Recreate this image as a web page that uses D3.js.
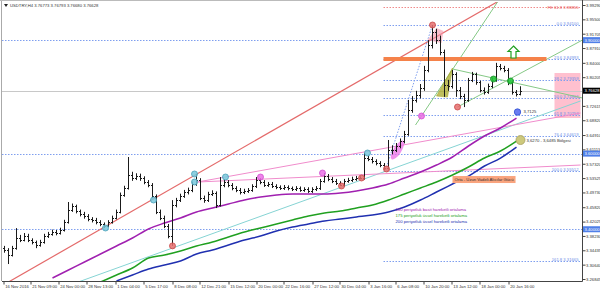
<!DOCTYPE html>
<html><head><meta charset="utf-8">
<script src="https://cdn.jsdelivr.net/npm/d3@7"></script>
<style>body{margin:0;background:#fff} svg{display:block;font-family:"Liberation Sans",Arial,sans-serif}</style>
</head><body><svg id="c" width="600" height="292"></svg>
<script>
// ---- OHLC (H4 bars, resampled) ----
const firstOpen = 3.350;
const closes = [3.345,3.332,3.350,3.377,3.372,3.382,3.372,3.366,3.358,3.366,
3.382,3.387,3.393,3.390,3.398,3.419,3.451,3.461,3.448,3.440,
3.435,3.427,3.424,3.419,3.414,3.409,3.419,3.430,3.446,3.491,
3.509,3.543,3.535,3.541,3.535,3.525,3.517,3.488,3.446,3.430,
3.409,3.382,3.464,3.477,3.488,3.498,3.504,3.520,3.530,3.483,
3.477,3.493,3.496,3.464,3.517,3.525,3.517,3.509,3.504,3.498,
3.501,3.504,3.514,3.530,3.525,3.517,3.520,3.514,3.512,3.509,
3.512,3.509,3.506,3.509,3.504,3.506,3.501,3.506,3.509,3.528,
3.541,3.533,3.528,3.522,3.517,3.528,3.530,3.533,3.535,3.535,
3.588,3.586,3.580,3.575,3.570,3.562,3.610,3.610,3.620,3.633,
3.652,3.715,3.742,3.755,3.773,3.821,3.887,3.922,3.900,3.869,
3.781,3.779,3.810,3.768,3.752,3.742,3.795,3.810,3.789,3.768,
3.763,3.779,3.795,3.832,3.826,3.821,3.789,3.763,3.758,3.766];
const highs = [3.356,3.350,3.356,3.403,3.385,3.390,3.388,3.376,3.370,3.372,
3.388,3.393,3.399,3.398,3.404,3.425,3.472,3.468,3.465,3.452,
3.446,3.440,3.432,3.430,3.424,3.418,3.424,3.436,3.452,3.497,
3.515,3.591,3.552,3.548,3.547,3.540,3.530,3.522,3.492,3.452,
3.436,3.414,3.477,3.483,3.494,3.504,3.510,3.526,3.546,3.535,
3.489,3.499,3.503,3.500,3.538,3.532,3.530,3.522,3.514,3.509,
3.507,3.509,3.519,3.538,3.535,3.530,3.525,3.525,3.519,3.516,
3.517,3.516,3.513,3.514,3.513,3.511,3.511,3.511,3.514,3.533,
3.549,3.546,3.538,3.533,3.527,3.533,3.536,3.539,3.541,3.540,
3.602,3.594,3.591,3.585,3.580,3.575,3.636,3.622,3.628,3.640,
3.660,3.742,3.752,3.766,3.784,3.832,3.900,3.940,3.930,3.912,
3.875,3.795,3.821,3.815,3.776,3.758,3.800,3.816,3.814,3.793,
3.775,3.785,3.801,3.840,3.837,3.832,3.826,3.793,3.768,3.778];
const lows = [3.338,3.308,3.328,3.346,3.366,3.368,3.366,3.360,3.350,3.354,
3.362,3.377,3.383,3.384,3.386,3.394,3.415,3.446,3.442,3.434,
3.428,3.421,3.418,3.413,3.408,3.403,3.405,3.415,3.426,3.442,
3.486,3.505,3.528,3.530,3.528,3.519,3.511,3.482,3.440,3.424,
3.403,3.376,3.356,3.458,3.472,3.483,3.492,3.498,3.515,3.477,
3.470,3.472,3.488,3.456,3.460,3.511,3.511,3.503,3.498,3.492,
3.493,3.496,3.499,3.509,3.519,3.512,3.512,3.509,3.506,3.504,
3.504,3.503,3.501,3.501,3.499,3.499,3.496,3.496,3.501,3.504,
3.523,3.527,3.522,3.517,3.514,3.513,3.523,3.525,3.528,3.532,
3.531,3.580,3.574,3.569,3.564,3.557,3.558,3.598,3.604,3.614,
3.627,3.647,3.708,3.735,3.746,3.766,3.815,3.878,3.890,3.860,
3.750,3.766,3.772,3.750,3.744,3.723,3.737,3.789,3.782,3.762,
3.756,3.758,3.773,3.790,3.820,3.815,3.781,3.756,3.751,3.754];

// ---- moving averages (sampled every 4 bars) ----
const maIdx = [12,16,20,24,28,32,36,40,44,48,52,56,60,64,68,72,76,80,84,88,92,96,100,104,108,112,116,120,124,128];
const sma100 = [3.2711,3.2922,3.3134,3.3345,3.3557,3.3768,3.4006,3.4165,3.4297,3.4456,3.4561,3.4667,3.4773,3.4852,3.4905,3.4932,3.4932,3.4932,3.4958,3.5011,3.5090,3.5196,3.5355,3.5513,3.5698,3.5910,3.6201,3.6465,3.6677,3.6941];
const ema175 = [null,null,null,3.2605,3.2790,3.2975,3.3240,3.3319,3.3425,3.3557,3.3663,3.3795,3.3927,3.4033,3.4139,3.4244,3.4350,3.4429,3.4482,3.4561,3.4641,3.4773,3.4932,3.5090,3.5249,3.5434,3.5646,3.5883,3.6069,3.6333];
const ema200 = [null,null,null,null,3.2632,3.2790,3.2949,3.3055,3.3160,3.3345,3.3451,3.3583,3.3715,3.3821,3.3953,3.4059,3.4139,3.4218,3.4271,3.4324,3.4376,3.4456,3.4588,3.4773,3.4985,3.5196,3.5407,3.5672,3.5883,3.6174];

// ---- axes ----
const priceTicks = [3.99290,3.95500,3.91705,3.87910,3.84000,3.80205,3.72615,3.68820,3.64910,3.61115,3.57320,3.53525,3.49730,3.45820,3.42025,3.38230,3.34435,3.30640,3.26845];
const timeIdx = [-0.25,6.5,13.5,20.5,27.75,34.75,42,48.75,56,63,69.75,77,83.75,91,97.75,104.75,111.75,118.75,126];
const timeLabels = ["16 Nov 2016","21 Nov 09:00","24 Nov 00:00","28 Nov 13:00","1 Dec 04:00","5 Dec 17:00","8 Dec 08:00","12 Dec 21:00","15 Dec 12:00","20 Dec 00:00","22 Dec 16:00","27 Dec 12:00","30 Dec 04:00","3 Jan 16:00","6 Jan 08:00","10 Jan 20:00","13 Jan 12:00","18 Jan 00:00","20 Jan 16:00"];
const header = "USDTRY,H4  3.76773 3.76793 3.76680 3.76628";
const lastPrice = 3.76628;

// ---- horizontal levels ----
const roundLevels = [3.90000,3.60000,3.40000];
const fibLevels = [3.94100,3.84993,3.79359,3.74806,3.70253,3.64619,3.55512,3.31665];
const fibNames = ["0.0","23.6","38.2","50.0","61.8","76.4","100.0","161.8"];
const feLevel = 3.98855;
const fibStart = 94.75, fibEnd = 144;
const resistance = {from:94.75, to:135.5, price:3.8499};
const zoneBox = {from:137.5, to:144, top:3.8131, bottom:3.6941};

// ---- trend lines [idx1, price1, idx2, price2] ----
const trendRed   = [1,3.2605,124,4.0061];
const trendCyan  = [17.75,3.2579,144,3.7391];
const trendPinkA = [48.25,3.5249,144,3.5698];
const trendPinkB = [48.25,3.5249,144,3.7073];
const trendGreenSteep = [102.75,3.6756,123.25,4.0008];
const trendGreenLow   = [113.25,3.7232,144.5,3.9003];
const trendGreenDesc  = [112,3.8237,144.5,3.7470];
const trendBlueDot    = [95.25,3.5566,107,3.9400];

// ---- marker dots [idx, price] ----
const redDots = [[107,3.940],[42,3.356],[84.25,3.5143],[89.25,3.5355],[95.5,3.5593],[113.25,3.7232]];
const cyanDots = [[25.25,3.4033],[37.25,3.4773],[47.5,3.5461],[47.5,3.5249],[55.25,3.5381],[90.75,3.6016]];
const magentaDots = [[64,3.5381],[79.5,3.5487],[104.25,3.6994]];
const greenDots = [[122.25,3.7972],[126.5,3.7919]];
const blueDot = [128.25,3.7100], blueDotLabel = "3,7125";
const oliveDot = [129,3.6359], oliveLabel = "3,6270 - 3,6485 Bölgesi";
const ellipseCenter = [98.25,3.6095];
const arrowPos = [127.25,3.8686];
const pinkPatch = [[105.75,3.9003],[108,3.9321],[109.75,3.9241],[109.25,3.8924]];
const oliveFlag = [[108,3.7523],[112,3.8263],[110.75,3.7496]];
const boxLabel = {idx:112, price:3.5407, text:"Orta - Uzun Vadeli Alıcılar Gücü"};
const legendTexts = ["100 periyotluk basit hareketli ortalama","175 periyotluk üssel hareketli ortalama","200 periyotluk üssel hareketli ortalama"];
const legendColors = ["#a020b0","#20a020","#2030b0"];

// ================= drawing =================
const svg = d3.select("#c");
const L=2,R=582,T=2,B=281;
const x = d3.scaleLinear().domain([0,129]).range([4.5,520.5]);
const y = d3.scaleLinear().domain([3.26845,3.99290]).range([279,5]);
const FS = "4.2px";

svg.append("rect").attr("width",600).attr("height",292).attr("fill","#fff");
svg.append("defs").append("clipPath").attr("id","clip").append("rect")
  .attr("x",L).attr("y",T).attr("width",R-L).attr("height",B-T);
const g = svg.append("g").attr("clip-path","url(#clip)");

// borders
svg.append("line").attr("x1",1.5).attr("x2",1.5).attr("y1",0).attr("y2",B).attr("stroke","#aaa");
svg.append("line").attr("x1",0).attr("x2",600).attr("y1",0.5).attr("y2",0.5).attr("stroke","#bbb");

// zone box
g.append("rect").attr("x",x(zoneBox.from)).attr("y",y(zoneBox.top))
  .attr("width",x(zoneBox.to)-x(zoneBox.from)).attr("height",y(zoneBox.bottom)-y(zoneBox.top))
  .attr("fill","#ffc0cf");

// round levels
roundLevels.forEach(v=>g.append("line").attr("x1",L).attr("x2",R).attr("y1",Math.round(y(v))+0.5).attr("y2",Math.round(y(v))+0.5)
  .attr("stroke","#7f9fef").attr("stroke-dasharray","1.5,1.5"));
// last price line
g.append("line").attr("x1",L).attr("x2",R).attr("y1",Math.round(y(lastPrice))+0.5).attr("y2",Math.round(y(lastPrice))+0.5).attr("stroke","#c8c8c8");

// fib
const fib = g.append("g");
fibLevels.forEach((v,i)=>{
  const yy=Math.round(y(v))+0.5;
  fib.append("line").attr("x1",x(fibStart)).attr("x2",x(fibEnd)).attr("y1",yy).attr("y2",yy)
    .attr("stroke","#7f9fef").attr("stroke-dasharray","1.5,1.5");
  fib.append("text").attr("x",x(fibEnd)-2).attr("y",yy-1).attr("text-anchor","end")
    .attr("font-size",FS).attr("fill","#6f8fe8").text(fibNames[i]+" "+fibLevels[i].toFixed(5));
});
{
  const yy=Math.round(y(feLevel))+0.5;
  fib.append("line").attr("x1",x(fibStart)).attr("x2",x(fibEnd)).attr("y1",yy).attr("y2",yy)
    .attr("stroke","#f08a8a").attr("stroke-dasharray","1.5,1.5");
  fib.append("text").attr("x",x(fibEnd)-2).attr("y",yy+1.5).attr("text-anchor","end")
    .attr("font-size",FS).attr("fill","#e85050").text("FE 61.8 "+feLevel.toFixed(5));
}

// trend lines
function tl(a,color,w,dash){
  const l=g.append("line").attr("x1",x(a[0])).attr("y1",y(a[1])).attr("x2",x(a[2])).attr("y2",y(a[3]))
   .attr("stroke",color).attr("stroke-width",w);
  if(dash) l.attr("stroke-dasharray",dash);
}
tl(trendCyan,"#86d4d4",1);
tl(trendPinkA,"#f08ccc",1);
tl(trendPinkB,"#f08ccc",1);
tl(trendRed,"#e46a6a",1.2);
tl(trendGreenSteep,"#86c986",1);
tl(trendGreenLow,"#86c986",1);
tl(trendGreenDesc,"#86c986",1);
tl(trendBlueDot,"#7f9fef",1,"1.5,1.5");

// moving averages
const ln = d3.line().defined(d=>d[1]!=null).x(d=>x(d[0])).y(d=>y(d[1])).curve(d3.curveMonotoneX);
[[sma100,"#a020b0"],[ema175,"#20a020"],[ema200,"#2030b0"]].forEach(([arr,c])=>{
  g.append("path").attr("d",ln(maIdx.map((k,i)=>[k,arr[i]]))).attr("fill","none").attr("stroke",c).attr("stroke-width",1.5);
});

// resistance
g.append("line").attr("x1",x(resistance.from)).attr("x2",x(resistance.to)).attr("y1",y(resistance.price)).attr("y2",y(resistance.price))
  .attr("stroke","#f5824a").attr("stroke-width",4);

// patches
const poly = d3.line().x(d=>x(d[0])).y(d=>y(d[1]));
g.append("path").attr("d",poly(pinkPatch)+"Z").attr("fill","rgba(245,150,170,0.6)");
g.append("path").attr("d",poly(oliveFlag)+"Z").attr("fill","rgba(170,170,40,0.75)").attr("stroke","#a8a830").attr("stroke-width",0.6);
g.append("ellipse").attr("cx",x(ellipseCenter[0])).attr("cy",y(ellipseCenter[1])).attr("rx",11).attr("ry",4)
  .attr("transform",`rotate(-58 ${x(ellipseCenter[0])} ${y(ellipseCenter[1])})`).attr("fill","rgba(235,110,230,0.75)");

// bars
const bars = g.append("g").attr("stroke","#1a1a1a").attr("stroke-width",1);
closes.forEach((c,i)=>{
  const o = i===0?firstOpen:closes[i-1];
  const xx=x(i);
  bars.append("line").attr("x1",xx).attr("x2",xx).attr("y1",y(highs[i])).attr("y2",y(lows[i]));
  bars.append("line").attr("x1",xx-1.5).attr("x2",xx).attr("y1",Math.round(y(o))+0.5).attr("y2",Math.round(y(o))+0.5);
  bars.append("line").attr("x1",xx).attr("x2",xx+1.5).attr("y1",Math.round(y(c))+0.5).attr("y2",Math.round(y(c))+0.5);
});

// dots
function dots(arr,fill,stroke,r){
  arr.forEach(d=>g.append("circle").attr("cx",x(d[0])).attr("cy",y(d[1])).attr("r",r)
    .attr("fill",fill).attr("stroke",stroke).attr("stroke-width",0.8));
}
dots(redDots,"rgba(230,110,110,0.85)","#c84848",3);
dots(cyanDots,"rgba(120,200,220,0.85)","#4aa0b8",3);
dots(magentaDots,"rgba(235,110,230,0.85)","#d050d0",3);
dots(greenDots,"rgba(40,200,60,0.9)","#189028",3);
dots([blueDot],"rgba(90,110,240,0.9)","#3050d0",3.2);
dots([oliveDot],"rgba(200,195,110,0.9)","#a8a060",4.5);
svg.append("text").attr("x",x(blueDot[0])+6).attr("y",y(blueDot[1])+1.5).attr("font-size",FS).attr("fill","#333").text(blueDotLabel);
svg.append("text").attr("x",x(oliveDot[0])+6).attr("y",y(oliveDot[1])+1.5).attr("font-size",FS).attr("fill","#333").text(oliveLabel);

// arrow
{
  const ax=x(arrowPos[0]), ay=y(arrowPos[1]);
  g.append("path").attr("d",`M${ax},${ay-6}L${ax+5.5},${ay-0.5}L${ax+2.5},${ay-0.5}L${ax+2.5},${ay+6}L${ax-2.5},${ay+6}L${ax-2.5},${ay-0.5}L${ax-5.5},${ay-0.5}Z`)
   .attr("fill","#fff").attr("stroke","#20a020").attr("stroke-width",1.2);
}

// box label
{
  const bx=x(boxLabel.idx), by=y(boxLabel.price);
  const bg=svg.append("g");
  const r=bg.append("rect").attr("x",bx).attr("y",by).attr("height",7).attr("fill","#f9a47e");
  const t=bg.append("text").attr("x",bx+2).attr("y",by+5).attr("font-size",FS).attr("fill","#333").text(boxLabel.text);
  r.attr("width",t.node().getComputedTextLength()+4);
}

// legend
legendTexts.forEach((s,i)=>svg.append("text").attr("x",x(97.75)).attr("y",211+i*6).attr("font-size",FS).attr("fill",legendColors[i]).text(s));

// header
svg.append("path").attr("d","M4,4L8,4L6,7Z").attr("fill","#222");
svg.append("text").attr("x",10).attr("y",7).attr("font-size",FS).attr("fill","#333").text(header);

// axes
const ya = svg.append("g").attr("transform",`translate(${R+0.5},0)`)
  .call(d3.axisRight(y).tickValues(priceTicks).tickSize(3).tickFormat(d3.format(".5f")));
ya.select(".domain").remove();
ya.selectAll("text").attr("font-size",FS).attr("fill","#333").attr("x",3.5);
ya.selectAll("line").attr("stroke","#444");
svg.append("line").attr("x1",R+0.5).attr("x2",R+0.5).attr("y1",0).attr("y2",B+0.5).attr("stroke","#444");

const xa = svg.append("g").attr("transform",`translate(0,${B+0.5})`)
  .call(d3.axisBottom(x).tickValues(timeIdx).tickSize(3).tickFormat((d,i)=>timeLabels[i]));
xa.select(".domain").remove();
xa.selectAll("text").attr("font-size",FS).attr("fill","#333").attr("text-anchor","start").attr("x",1.2).attr("y",4);
xa.selectAll("line").attr("stroke","#444");
svg.append("line").attr("x1",L).attr("x2",R+0.5).attr("y1",B+0.5).attr("y2",B+0.5).attr("stroke","#444");

// price tags on axis
function tag(v,bg,fg){
  const yy=y(v);
  svg.append("rect").attr("x",R+1).attr("y",yy-3).attr("width",17).attr("height",6).attr("fill",bg);
  svg.append("text").attr("x",R+2.5).attr("y",yy+1.5).attr("font-size",FS).attr("fill",fg).text(v.toFixed(5));
}
roundLevels.forEach(v=>tag(v,"#4f7fe8","#fff"));
tag(lastPrice,"#000","#fff");
</script></body></html>
